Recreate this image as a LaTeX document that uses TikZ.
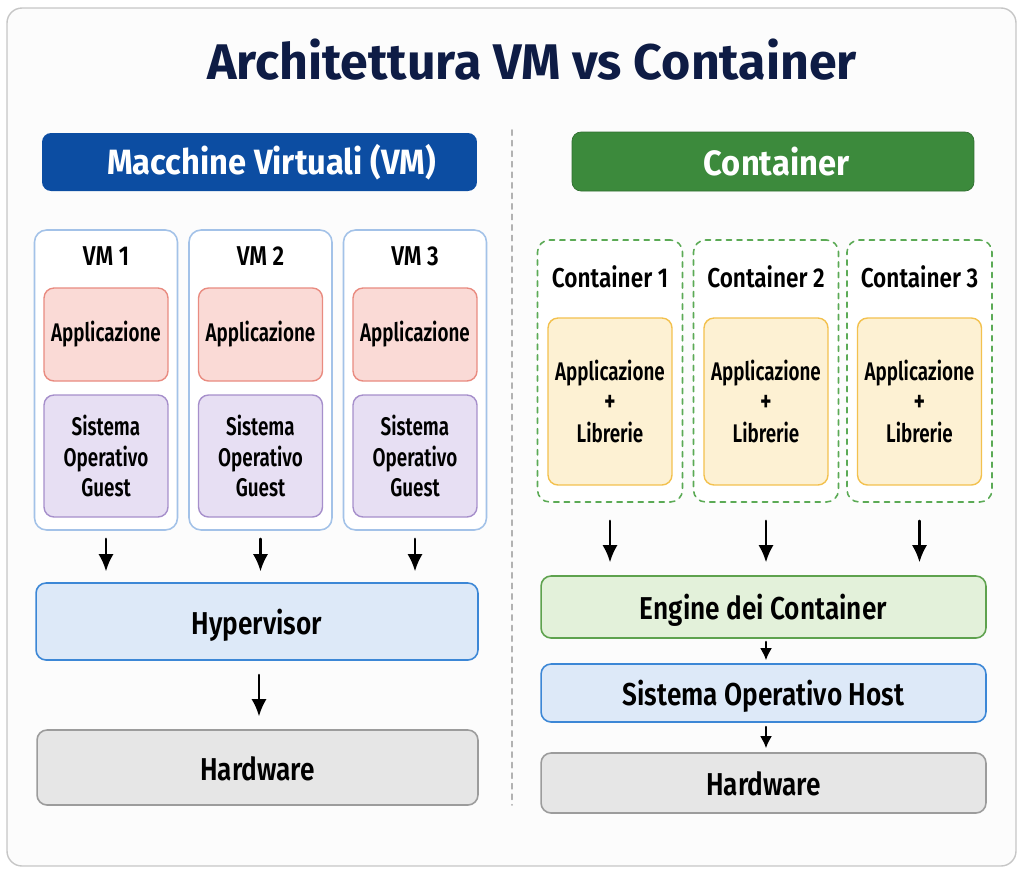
\documentclass[tikz,border=0pt]{standalone}
\usepackage{fontspec}
\setmainfont{Fira Sans}
\newfontfamily\headfont[FakeStretch=0.93]{Fira Sans}
\newfontfamily\tagfont[FakeStretch=0.83, BoldFont={Fira Sans SemiBold}]{Fira Sans}
\newfontfamily\boxfont[FakeStretch=0.74, BoldFont={Fira Sans SemiBold}]{Fira Sans}
\newfontfamily\layerfont[FakeStretch=0.83, BoldFont={Fira Sans SemiBold}]{Fira Sans}
\usetikzlibrary{arrows.meta,positioning}

\definecolor{titlenavy}{HTML}{0E1C45}
\definecolor{vmblue}{HTML}{0C4DA2}
\definecolor{ctgreen}{HTML}{3C8A3C}
\definecolor{vmframe}{HTML}{A3C2E8}
\definecolor{appfill}{HTML}{FADAD6}
\definecolor{appline}{HTML}{E98B80}
\definecolor{osfill}{HTML}{E7DFF3}
\definecolor{osline}{HTML}{A68FCB}
\definecolor{hypfill}{HTML}{DDE9F8}
\definecolor{hypline}{HTML}{3C87D6}
\definecolor{hwfill}{HTML}{E6E6E6}
\definecolor{hwline}{HTML}{9C9C9C}
\definecolor{ctframe}{HTML}{5BAA55}
\definecolor{libfill}{HTML}{FDF1D3}
\definecolor{libline}{HTML}{F3C14E}
\definecolor{engfill}{HTML}{E3F1DA}
\definecolor{engline}{HTML}{5EA24E}

\tikzset{
  header/.style={rounded corners=0.18cm},
  headtext/.style={text=white, font=\headfont\bfseries\fontsize{20}{24}\selectfont},
  frame/.style={draw, rounded corners=0.24cm, line width=0.9pt, fill=white},
  inner/.style={draw, rounded corners=0.2cm, line width=0.8pt, align=center, inner sep=2pt,
    minimum width=2.48cm, font=\boxfont\bfseries\fontsize{14.5}{17.6}\selectfont},
  layer/.style={draw, rounded corners=0.2cm, line width=0.9pt, align=center,
    text height=0.6cm, text depth=0.1cm, font=\layerfont\bfseries\fontsize{18}{21}\selectfont},
  tag/.style={font=\tagfont\bfseries\fontsize{15.5}{18}\selectfont},
  down/.style={->, line width=1.2pt, >={Latex[length=3.4mm, width=3mm]}},
}

\begin{document}
\begin{tikzpicture}[x=0.02cm, y=-0.02cm, line cap=round, line join=round]
  \useasboundingbox (0,0) rectangle (1024,873);
  \draw[gray!45, line width=0.8pt, rounded corners=0.3cm, fill=gray!2] (7,8) rectangle (1016,866);

  \node[text=titlenavy, font=\bfseries\fontsize{28.5}{32}\selectfont] (title) at (532,60)
      {Architettura VM vs Container};

  \draw[gray!60, dashed, line width=0.9pt] (512,130) -- (512,805);

  % macchine virtuali
  \node[header, fill=vmblue, minimum width=8.7cm, minimum height=1.16cm] (vmhead) at (259.5,162) {};
  \node[headtext] (vmheadtext) at (271.5,162) {Macchine Virtuali (VM)};

  \foreach \i/\x in {1/106, 2/260.5, 3/415} {
    \node[frame, draw=vmframe, minimum width=2.86cm, minimum height=6cm] (vm\i) at (\x,380) {};
    \node[tag] (vmtag\i) at (\x,256) {VM \i};
    \node[inner, fill=appfill, draw=appline, minimum height=1.86cm] (app\i) at (\x,334.5) {Applicazione};
    \node[inner, fill=osfill, draw=osline, minimum height=2.44cm] (os\i) at (\x,456)
        {Sistema\\Operativo\\Guest};
  }

  \node[layer, fill=hypfill, draw=hypline, minimum width=8.84cm, minimum height=1.54cm] (hyp) at (257,621.5)
      {Hypervisor};
  \node[layer, fill=hwfill, draw=hwline, minimum width=8.82cm, minimum height=1.5cm] (hwvm) at (257.5,767.5)
      {Hardware};

  \foreach \i in {1,2,3}
    \draw[down, shorten <=0.16cm, shorten >=0.22cm] (vm\i.south) -- (vm\i.south |- hyp.north);
  \draw[down, shorten <=0.28cm, shorten >=0.26cm] (hyp.south -| 259,0) -- (hwvm.north -| 259,0);

  % container
  \node[header, fill=ctgreen, draw=ctgreen!80!black, minimum width=8.04cm, minimum height=1.18cm] (cthead) at (773,161.5) {};
  \node[headtext] (ctheadtext) at (776.5,161.5) {Container};

  \foreach \i/\x in {1/610, 2/766, 3/919.5} {
    \node[frame, draw=ctframe, dashed, minimum width=2.9cm, minimum height=5.24cm] (ct\i) at (\x,371) {};
    \node[tag] (cttag\i) at (\x,277) {Container \i};
    \node[inner, fill=libfill, draw=libline, minimum height=3.34cm] (lib\i) at (\x,401.5)
        {Applicazione\\{\fontsize{17}{17.6}\selectfont+}\\Librerie};
  }

  \node[layer, fill=engfill, draw=engline, minimum width=8.9cm, minimum height=1.24cm] (eng) at (763.5,607)
      {Engine dei Container};
  \node[layer, fill=hypfill, draw=hypline, minimum width=8.9cm, minimum height=1.16cm] (host) at (763.5,693)
      {Sistema Operativo Host};
  \node[layer, fill=hwfill, draw=hwline, minimum width=8.9cm, minimum height=1.2cm] (hwct) at (763.5,783)
      {Hardware};

  \foreach \i in {1,2,3}
    \draw[down, shorten <=0.36cm, shorten >=0.26cm] (ct\i.south) -- (ct\i.south |- eng.north);
  \draw[down, >={Latex[length=2.4mm, width=2.4mm]}, shorten <=0.06cm, shorten >=0.06cm]
      (eng.south -| 766,0) -- (host.north -| 766,0);
  \draw[down, >={Latex[length=2.4mm, width=2.4mm]}, shorten <=0.08cm, shorten >=0.08cm]
      (host.south -| 766,0) -- (hwct.north -| 766,0);
\end{tikzpicture}
\end{document}
